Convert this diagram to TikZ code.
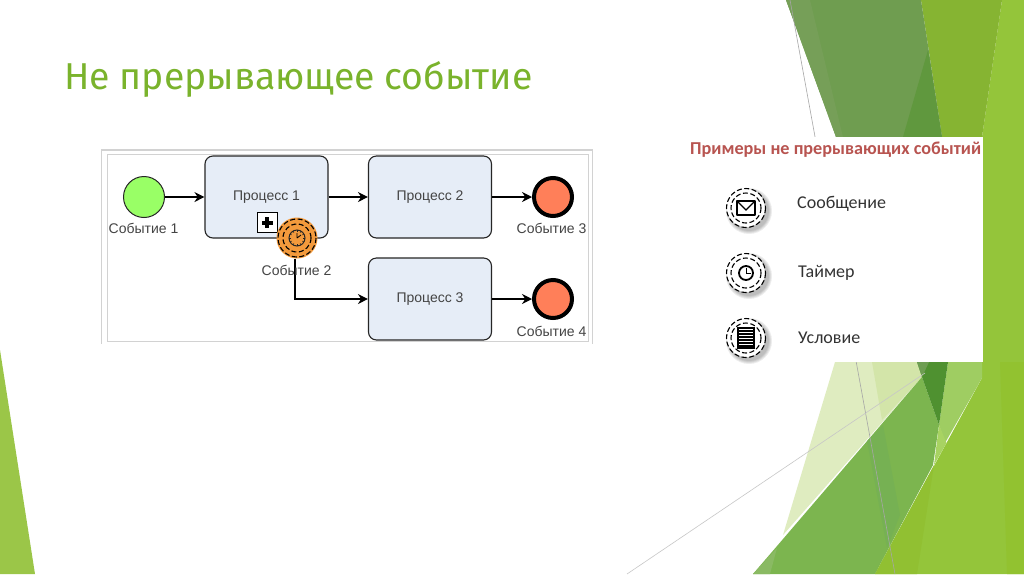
\documentclass[tikz,border=0pt]{standalone}
\usepackage{fontspec}
\setmainfont{Liberation Sans}
\newfontfamily\titlefont{Fira Sans}
\newfontfamily\panelfont{Carlito}
\usetikzlibrary{arrows.meta,calc}
\definecolor{titlegreen}{HTML}{7AB32C}
\definecolor{procfill}{HTML}{E6EDF7}
\definecolor{startfill}{HTML}{99FF66}
\definecolor{endfill}{HTML}{FF7F59}
\definecolor{interfill}{HTML}{F39A3C}
\definecolor{framegray}{HTML}{D2D2D2}
\definecolor{labelgray}{HTML}{444444}
\definecolor{panelred}{HTML}{B85450}
\definecolor{wedge}{HTML}{9BC648}
\definecolor{bright}{HTML}{94C53A}
\definecolor{upperlime}{HTML}{86B432}
\definecolor{uppergreen}{HTML}{6F9D50}
\definecolor{upperstrip}{HTML}{769F58}
\definecolor{upperdark}{HTML}{60983E}
\definecolor{palea}{HTML}{DFECC0}
\definecolor{paleb}{HTML}{D3E5A9}
\definecolor{midlime}{HTML}{9FCD62}
\definecolor{sliver}{HTML}{A8D362}
\definecolor{biggreen}{HTML}{7CB54F}
\definecolor{bigband}{HTML}{76B153}
\definecolor{bigcorner}{HTML}{8ABA63}
\definecolor{tipdark}{HTML}{4F9130}
\definecolor{tipgrey}{HTML}{6E9E52}
\definecolor{brightb}{HTML}{91C032}
\definecolor{brightc}{HTML}{92C230}
\tikzset{
  x=1pt,y=-1pt,
  bgshape/.style={fill=#1,draw=none},
  thinline/.style={draw=#1,line width=0.6pt},
  process/.style={draw=black!85,line width=1.1pt,fill=procfill,rounded corners=8pt,
    minimum width=123pt,minimum height=82pt,inner sep=0pt,text=labelgray,font=\fontsize{14}{16}\selectfont},
  startev/.style={circle,draw=black!85,line width=1pt,fill=startfill,minimum size=41pt,inner sep=0pt},
  endev/.style={circle,draw=black,line width=4pt,fill=endfill,minimum size=38pt,inner sep=0pt},
  interev/.style={circle,fill=interfill,draw=none,minimum size=41pt,inner sep=0pt},
  evlabel/.style={inner sep=0pt,text=labelgray,font=\fontsize{14}{16}\selectfont},
  flow/.style={draw=black,line width=1.2pt,-{Stealth[length=10pt,width=10pt]}},
  dashring/.style={draw=black,line width=1.1pt,dash pattern=on 5pt off 2.5pt},
  paneltext/.style={inner sep=0pt,anchor=west,text=black!80,font=\panelfont\fontsize{18}{20}\selectfont},
}
\newcommand{\iconrings}[1]{%
  \foreach \r in {23,22,21,20}{\fill[black,opacity=0.07] ($(#1)+(3,3)$) circle[radius=\r];}%
  \fill[white] (#1) circle[radius=19];
  \draw[dashring] (#1) circle[radius=19.5];
  \draw[dashring] (#1) circle[radius=15];
}
\begin{document}
\begin{tikzpicture}
\useasboundingbox (0,0) rectangle (1024,574);
\fill[white] (0,0) rectangle (1024,574);
% left wedge
\path[bgshape=wedge] (0,350) -- (35,574) -- (0,574) -- cycle;
% top right
\path[bgshape=bright] (1002,0) -- (1024,0) -- (1024,574) -- (875,574) -- (982,378) -- (982,137) -- cycle;
\path[bgshape=upperlime] (921,0) -- (1002,0) -- (982,137) -- (942,137) -- cycle;
\path[bgshape=uppergreen] (786,0) -- (921,0) -- (942,137) -- (836,137) -- cycle;
\path[bgshape=upperstrip] (786,0) -- (810,0) -- (843,137) -- (836,137) -- cycle;
\path[bgshape=upperdark] (928,50) -- (942,137) -- (903,137) -- cycle;
% bottom pale shapes
\path[bgshape=palea] (835,362) -- (917,362) -- (922,377) -- (783,535) -- cycle;
\path[bgshape=paleb] (872,362) -- (917,362) -- (922,377) -- (882,420) -- cycle;
\path[bgshape=midlime] (948,362) -- (982,362) -- (982,378) -- (945,443) -- (939,425) -- cycle;
% big green
\path[bgshape=biggreen] (753,574) -- (922,377) -- (939,425) -- (933,465) -- (875,574) -- cycle;
\path[bgshape=bigband] (867,441) -- (883,425) -- (900,515) -- (887,548) -- cycle;
\path[bgshape=bigcorner] (753,574) -- (777,548) -- (770,574) -- cycle;
\path[bgshape=sliver] (939,425) -- (946.5,443) -- (934,465) -- cycle;
% dark tip
\path[bgshape=tipdark] (917,362) -- (948,362) -- (939,425) -- (922,377) -- cycle;
\path[bgshape=tipgrey] (917,362) -- (929,362) -- (922,377) -- cycle;
% bright subtle
\path[bgshape=brightb] (875,574) -- (934,465) -- (917,574) -- cycle;
\path[bgshape=brightc] (1000,362) -- (1024,362) -- (1024,574) -- (1007,574) -- cycle;
% thin lines
\draw[thinline=black!35] (790,0) -- (895,574);
\draw[thinline=black!22] (627,574) -- (925,373);
% white panel
\fill[white] (660,137) rectangle (983,362);

% title
\node[anchor=west,inner sep=0pt,text=titlegreen,font=\titlefont\fontsize{37.4}{40}\selectfont] (title) at (64,79) {Не прерывающее событие};

% diagram frame
\node[draw=framegray,line width=1.5pt,fill=white,minimum width=491pt,minimum height=195pt,inner sep=0pt] (frameouter) at (347,247.5) {};
\node[draw=framegray,line width=1pt,fill=white,minimum width=481pt,minimum height=187pt,inner sep=0pt] (frameinner) at (347.5,247.5) {};
\fill[white] (95,344) rectangle (600,350);

\node[process] (p1) at (266.5,197) {Процесс 1};
\node[process] (p2) at (430,197) {Процесс 2};
\node[process] (p3) at (430,299) {Процесс 3};
\node[startev] (e1) at (144,197) {};
\node[endev] (e3) at (553,197) {};
\node[endev] (e4) at (553,299) {};
\node[evlabel] (l1) at (143.5,228.5) {Событие 1};
\node[evlabel] (l3) at (551.5,228.5) {Событие 3};
\node[evlabel] (l4) at (551.5,331) {Событие 4};
% collapse marker
\node[draw=black,line width=1pt,fill=white,minimum size=20pt,inner sep=0pt] (plus) at (267,222.5) {};
\fill[black] (261.5,220.5) rectangle (272.5,224.5);
\fill[black] (265,217) rectangle (269,228);

\draw[flow] (e1) -- (p1);
\draw[flow] (p1) -- (p2);
\draw[flow] (p2) -- (e3);
\draw[flow] (p3) -- (e4);

\node[interev] (e2) at (297,238) {};
\draw[dashring] (e2.center) circle[radius=19];
\draw[dashring] (e2.center) circle[radius=14];
\draw[black!85,line width=1pt] (e2.center) circle[radius=8];
\foreach \a in {0,30,...,330}{\draw[black!85,line width=0.5pt] ($(e2.center)+(\a:6)$) -- ($(e2.center)+(\a:8)$);}
\draw[black,line width=0.8pt] (e2.center) -- ++(0,-5) (e2.center) -- ++(4,-3);
\draw[flow] ([xshift=-2pt]e2.south) |- (p3.west);
\node[evlabel] (l2) at (296.5,270) {Событие 2};

% panel
\node[anchor=west,inner sep=0pt,text=panelred,font=\panelfont\bfseries\fontsize{18.2}{20}\selectfont] (ptitle) at (690,150) {Примеры не прерывающих событий};

\coordinate (ic1) at (746,208);
\coordinate (ic2) at (746,273);
\coordinate (ic3) at (746,338);
\iconrings{ic1}
\iconrings{ic2}
\iconrings{ic3}
% envelope
\draw[black,line width=1.6pt,line join=round] ($(ic1)+(-9,-7)$) rectangle ($(ic1)+(9,7)$);
\draw[black,line width=1.2pt] ($(ic1)+(-9,-7)$) -- ($(ic1)+(0,2)$) -- ($(ic1)+(9,-7)$);
% clock
\draw[black,line width=1.8pt] (ic2) circle[radius=7];
\draw[black,line width=1pt] (ic2) -- ++(0,-5) (ic2) -- ++(4.5,0);
% condition
\draw[black,line width=1.2pt,fill=white] ($(ic3)+(-8,-10)$) rectangle ($(ic3)+(8,10)$);
\foreach \d in {-7,-4,-1,2,5,8}{\draw[black,line width=1.3pt] ($(ic3)+(-7,\d)$) -- ($(ic3)+(7,\d)$);}

\node[paneltext] (t1) at (797,204) {Сообщение};
\node[paneltext] (t2) at (798,273) {Таймер};
\node[paneltext] (t3) at (798,338) {Условие};
\end{tikzpicture}
\end{document}
